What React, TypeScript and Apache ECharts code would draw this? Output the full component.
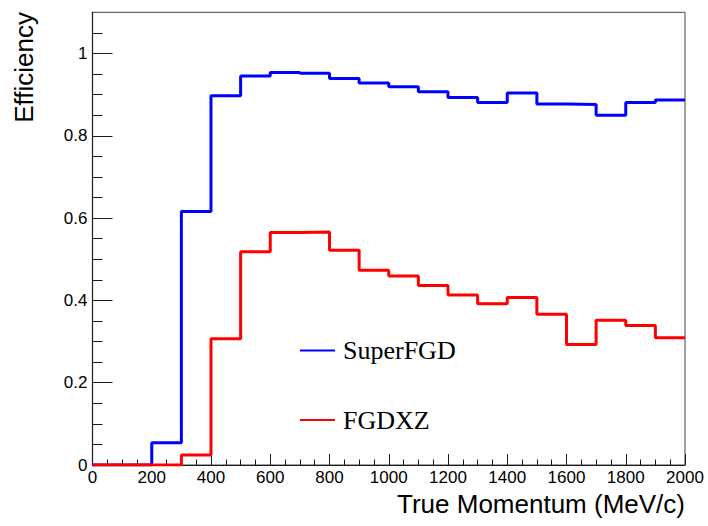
import React, { useEffect, useRef } from "react";
import * as echarts from "echarts";

// Lower edges of the momentum bins (MeV/c); the last bin closes at binUpperEdge.
const binLowEdges = [0, 100, 200, 300, 400, 500, 600, 700, 800, 900, 1000, 1100, 1200, 1300, 1400, 1500, 1600, 1700, 1800, 1900];
const binUpperEdge = 2000;

// Reconstruction efficiency per bin
const superFGD = [0, 0, 0.054, 0.616, 0.897, 0.945, 0.954, 0.952, 0.939, 0.928, 0.919, 0.907, 0.893, 0.881, 0.904, 0.877, 0.876, 0.85, 0.881, 0.887];
const fgdxz = [0, 0, 0, 0.024, 0.307, 0.518, 0.565, 0.566, 0.522, 0.473, 0.459, 0.436, 0.413, 0.392, 0.407, 0.366, 0.293, 0.352, 0.339, 0.309];

// Axis ticks
const yMajorTicks = [0, 0.2, 0.4, 0.6, 0.8, 1];
const yMinorTicks = [0.05, 0.1, 0.15, 0.25, 0.3, 0.35, 0.45, 0.5, 0.55, 0.65, 0.7, 0.75, 0.85, 0.9, 0.95, 1.05];

const seriesNames = ["SuperFGD", "FGDXZ"];

// Histogram outline: one point per lower bin edge plus the closing edge.
function histogramPoints(values: number[]): [number, number][] {
  const pts: [number, number][] = binLowEdges.map((x, i) => [x, values[i]]);
  pts.push([binUpperEdge, values[values.length - 1]]);
  return pts;
}

const SANS = "'Liberation Sans', Arial, sans-serif";
const SERIF = "'Liberation Serif', 'Times New Roman', serif";

export default function App() {
  const ref = useRef<HTMLDivElement | null>(null);

  useEffect(() => {
    if (!ref.current) return;
    const chart = echarts.init(ref.current, undefined, { renderer: "svg" });
    const axisColor = "#1a1a1a";
    chart.setOption({
      animation: false,
      backgroundColor: "#ffffff",
      grid: {
        left: 92.5,
        right: 23,
        top: 12.3,
        bottom: 61,
        show: true,
        borderColor: "#444",
        borderWidth: 1,
        backgroundColor: "transparent",
      },
      legend: {
        orient: "vertical",
        left: 300,
        top: 337.5,
        padding: 0,
        icon: "rect",
        itemWidth: 35,
        itemHeight: 2,
        itemGap: 43.5,
        data: seriesNames,
        textStyle: {
          fontFamily: SERIF,
          fontSize: 26,
          lineHeight: 26,
          color: "#000",
          padding: [0, 0, 0, 3],
        },
      },
      xAxis: {
        type: "value",
        min: 0,
        max: 2000,
        interval: 200,
        axisLine: { show: true, lineStyle: { color: axisColor, width: 1.2 } },
        axisTick: { inside: true, length: 11, lineStyle: { color: axisColor } },
        minorTick: { show: true, splitNumber: 4, length: 5.5, lineStyle: { color: axisColor } },
        splitLine: { show: false },
        axisLabel: {
          margin: 4,
          fontFamily: SANS,
          fontSize: 17,
          color: "#000",
          formatter: (v: number) => String(v),
        },
      },
      yAxis: [
        {
          type: "value",
          min: 0,
          max: 1.1,
          axisLine: { show: true, lineStyle: { color: axisColor, width: 1.2 } },
          axisTick: {
            inside: true,
            length: 20,
            customValues: yMajorTicks,
            lineStyle: { color: axisColor },
          },
          splitLine: { show: false },
          axisLabel: {
            customValues: yMajorTicks,
            margin: 5,
            fontFamily: SANS,
            fontSize: 17,
            color: "#000",
          },
        },
        {
          type: "value",
          min: 0,
          max: 1.1,
          position: "left",
          axisLine: { show: false },
          axisTick: {
            show: true,
            inside: true,
            length: 10,
            customValues: yMinorTicks,
            lineStyle: { color: axisColor },
          },
          splitLine: { show: false },
          axisLabel: { show: false },
        },
      ],
      graphic: [
        {
          type: "text",
          right: 23,
          top: 491,
          style: {
            text: "True Momentum (MeV/c)",
            font: `26px ${SANS}`,
            fill: "#000",
          },
        },
        {
          type: "text",
          x: 24,
          y: 12,
          rotation: Math.PI / 2,
          style: {
            text: "Efficiency",
            font: `26px ${SANS}`,
            fill: "#000",
            align: "right",
            verticalAlign: "middle",
          },
        },
      ],
      series: [
        {
          name: seriesNames[0],
          type: "line",
          step: "end",
          symbol: "none",
          data: histogramPoints(superFGD),
          lineStyle: { color: "#0000ff", width: 3 },
          itemStyle: { color: "#0000ff" },
        },
        {
          name: seriesNames[1],
          type: "line",
          step: "end",
          symbol: "none",
          data: histogramPoints(fgdxz),
          lineStyle: { color: "#ff0000", width: 3 },
          itemStyle: { color: "#ff0000" },
        },
      ],
    });
    return () => chart.dispose();
  }, []);

  return (
    <div
      ref={ref}
      style={{ position: "fixed", left: 0, top: 0, width: 708, height: 526 }}
    />
  );
}
